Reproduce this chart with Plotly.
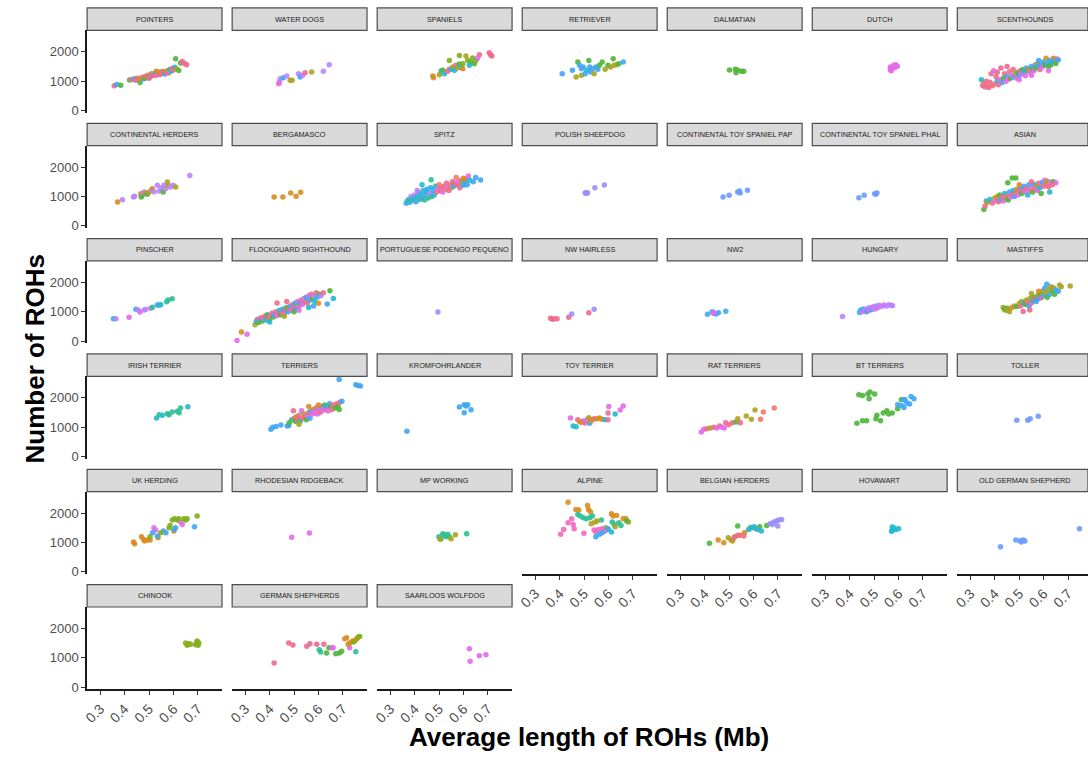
import plotly.graph_objects as go

# Point colours (one per breed group inside a clade)
COLORS = {
    "pk": "#EC6B8E", "rd": "#F07A6A", "mg": "#E26CEA", "hp": "#F266BF",
    "pu": "#B884FF", "pw": "#9A8EFF", "cb": "#6C9BFF", "bl": "#3FA6F5",
    "cy": "#22B9CF", "tl": "#2EBF95", "gr": "#4FB53A", "yg": "#82AE1C",
    "ol": "#ABA320", "or": "#D88C20",
}

X_TICKS = [0.3, 0.4, 0.5, 0.6, 0.7]
X_TICK_TEXT = ["0.3", "0.4", "0.5", "0.6", "0.7"]
Y_TICKS = [0, 1000, 2000]
Y_TICK_TEXT = ["0", "1000", "2000"]

# ---- per-clade data: average ROH length (Mb), number of ROHs, breed colour ----
pointers_x = [0.357,0.368,0.384,0.42,0.43,0.44,0.445,0.45,0.455,0.463,0.47,0.475,0.48,0.485,0.49,0.495,0.50,0.505,0.51,0.515,0.52,0.525,0.53,0.535,0.54,0.545,0.55,0.555,0.56,0.565,0.57,0.575,0.58,0.585,0.59,0.595,0.60,0.605,0.609,0.612,0.622,0.629,0.636,0.645,0.654,0.50,0.46,0.53]
pointers_y = [840,890,860,1040,1060,1080,1030,1100,1060,950,1120,1070,1150,1100,1180,1130,1210,1150,1250,1190,1230,1290,1200,1260,1300,1230,1320,1270,1330,1240,1300,1350,1280,1400,1340,1430,1380,1470,1760,1420,1360,1620,1670,1600,1560,1100,1090,1340]
pointers_c = "pk bl gr gr pk bl pk pk mg gr pk bl pk gr pk ol pk bl ol pk pk bl pk mg pk pk ol pk pk bl pk ol pk gr bl pk pk bl gr ol gr gr pk pk pk pk or or".split()

water_dogs_x = [0.437,0.44,0.443,0.456,0.47,0.484,0.492,0.518,0.525,0.535,0.545,0.572,0.62,0.644]
water_dogs_y = [915,972,1085,1118,1175,1028,1028,1254,1141,1198,1288,1310,1333,1559]
water_dogs_c = "mg mg pu bl pu ol ol pu bl pu pk ol pu pu".split()

spaniels_x = [0.474,0.477,0.501,0.508,0.515,0.522,0.535,0.542,0.549,0.556,0.563,0.569,0.576,0.583,0.59,0.597,0.542,0.583,0.61,0.617,0.63,0.637,0.644,0.651,0.665,0.658,0.705,0.716,0.711,0.624,0.597]
spaniels_y = [1175,1118,1220,1345,1367,1254,1333,1401,1401,1480,1367,1537,1446,1582,1480,1593,1706,1876,1853,1706,1650,1785,1593,1706,1898,1785,1966,1853,1900,1537,1424]
spaniels_c = "or or ol tl gr cy pk pk bl ol cy pk ol gr cy yg yg yg ol yg gr yg gr yg pk mg pk pk pk cy or".split()

retriever_x = [0.41,0.452,0.467,0.474,0.481,0.489,0.496,0.504,0.511,0.519,0.523,0.526,0.534,0.541,0.548,0.556,0.563,0.574,0.586,0.598,0.608,0.619,0.623,0.633,0.642,0.66,0.489]
retriever_y = [1254,1367,1141,1650,1537,1198,1480,1254,1367,1706,1480,1311,1424,1254,1480,1401,1537,1650,1401,1537,1480,1763,1537,1559,1593,1650,1420]
retriever_c = "bl bl ol gr bl ol bl bl cy gr bl bl bl ol bl bl gr gr ol gr ol gr ol ol gr bl bl".split()

dalmatian_x = [0.501,0.525,0.528,0.55,0.56,0.534]
dalmatian_y = [1378,1401,1288,1333,1333,1378]
dalmatian_c = "gr gr gr gr gr gr".split()

dutch_x = [0.566,0.566,0.572,0.58,0.588,0.595,0.57,0.583,0.59]
dutch_y = [1480,1390,1430,1540,1560,1510,1350,1460,1500]
dutch_c = "mg mg mg mg mg mg mg mg mg".split()

scenthounds_x = [0.345,0.35,0.355,0.36,0.365,0.37,0.375,0.38,0.385,0.39,0.395,0.40,0.405,0.41,0.415,0.42,0.425,0.43,0.435,0.44,0.445,0.45,0.455,0.46,0.465,0.47,0.475,0.48,0.485,0.49,0.495,0.50,0.505,0.51,0.515,0.52,0.525,0.53,0.535,0.54,0.545,0.55,0.555,0.56,0.565,0.57,0.575,0.58,0.585,0.59,0.595,0.60,0.605,0.61,0.615,0.62,0.625,0.63,0.635,0.64,0.645,0.65,0.655,0.66,0.45,0.41,0.50,0.55,0.62,0.58]
scenthounds_y = [1050,850,920,800,1000,880,780,960,1250,840,1350,900,1150,1000,880,1050,1450,950,1100,1250,1000,1150,1060,1320,1100,1200,1400,1150,1250,1100,1300,1200,1350,1250,1400,1300,1180,1450,1350,1400,1300,1500,1400,1350,1550,1450,1600,1500,1400,1550,1480,1650,1550,1780,1600,1500,1700,1550,1650,1780,1700,1600,1750,1720,1500,1300,1050,1200,1350,1700]
scenthounds_c = "cy pk rd pk pk rd pk pk pk pk mg rd pk cy pk mg pk bl gr pk mg bl mg pk gr mg pk bl ol mg gr bl pk mg gr bl mg bl gr or mg bl gr mg bl gr or bl pk bl mg bl gr or bl gr bl gr cy or bl gr pk bl pk pk mg mg mg bl".split()

cont_herders_x = [0.371,0.391,0.436,0.441,0.466,0.473,0.48,0.486,0.493,0.50,0.51,0.514,0.52,0.534,0.541,0.55,0.558,0.561,0.568,0.575,0.578,0.588,0.599,0.609,0.667,0.468]
cont_herders_y = [814,893,983,1006,1096,1040,1153,1119,1073,1141,1232,1266,1164,1379,1186,1288,1153,1379,1266,1492,1379,1322,1379,1322,1718,983]
cont_herders_c = "or pu pu pu or pu pu or gr ol pu or pu pu pu pu gr pu pu ol ol pu pu ol pu gr".split()

bergamasco_x = [0.418,0.454,0.486,0.508,0.527]
bergamasco_y = [983,983,1119,1006,1141]
bergamasco_c = "or or or or or".split()

spitz_x = [0.365,0.37,0.375,0.38,0.385,0.39,0.395,0.40,0.405,0.41,0.415,0.42,0.425,0.43,0.435,0.44,0.445,0.45,0.455,0.46,0.465,0.467,0.47,0.475,0.48,0.485,0.49,0.495,0.50,0.505,0.51,0.515,0.52,0.525,0.53,0.535,0.54,0.545,0.55,0.555,0.56,0.565,0.57,0.575,0.58,0.585,0.59,0.595,0.60,0.605,0.61,0.615,0.62,0.625,0.64,0.65,0.67,0.60,0.45,0.41,0.43]
spitz_y = [770,850,900,800,1000,880,950,1050,820,1000,1150,900,1080,960,1200,880,1050,1150,950,1100,1300,1570,1000,1200,1050,1350,1150,1250,1400,1200,1300,1150,1350,1250,1450,1300,1200,1400,1300,1500,1350,1450,1650,1400,1500,1300,1550,1450,1380,1500,1600,1400,1700,1550,1500,1650,1560,1620,1250,1200,1400]
spitz_c = "bl tl cy bl pu tl cy pu bl cy pu tl cy bl cy tl bl cy tl pu cy tl tl bl cy cy pk mg rd pk pk mg pk rd pk mg pk pk rd pk cy pk rd pk mg pk pk ol bl cy pk bl mg cy bl bl bl or bl pu cy".split()

polish_x = [0.504,0.508,0.51,0.514,0.544,0.583]
polish_y = [1119,1110,1125,1119,1299,1390]
polish_c = "pw pw pw pw pw pw".split()

cts_pap_x = [0.475,0.5,0.535,0.542,0.545,0.575]
cts_pap_y = [983,1040,1153,1186,1119,1209]
cts_pap_c = "cb cb cb cb cb cb".split()

cts_phal_x = [0.437,0.459,0.502,0.511,0.506]
cts_phal_y = [960,1040,1096,1119,1073]
cts_phal_c = "cb cb cb cb cb".split()

asian_x = [0.355,0.36,0.365,0.37,0.38,0.39,0.40,0.405,0.41,0.415,0.42,0.425,0.43,0.435,0.44,0.445,0.45,0.453,0.455,0.46,0.465,0.47,0.471,0.475,0.48,0.485,0.486,0.49,0.495,0.50,0.505,0.51,0.515,0.52,0.525,0.53,0.535,0.54,0.545,0.55,0.555,0.56,0.565,0.57,0.575,0.58,0.585,0.59,0.595,0.60,0.605,0.61,0.615,0.62,0.625,0.63,0.64,0.65,0.635,0.55,0.5]
asian_y = [560,680,850,800,900,780,950,860,1000,820,1050,900,980,850,1100,950,1020,1470,880,1150,980,1080,1630,1200,1000,1120,1630,1250,1050,1180,1300,1100,1220,1350,1150,1280,1050,1400,1200,1300,1150,1420,1250,1350,1200,1450,1300,1100,1480,1350,1550,1400,1520,1330,1150,1480,1500,1470,1400,1500,1400]
asian_c = "gr pk cy ol cy pk ol mg or pk gr bl pk mg cy ol pk gr gr bl mg pk gr cy bl pk gr or mg pk bl gr pk bl mg pk cy bl pk mg gr bl pk ol mg pk cy gr bl pk mg pk ol pk cy mg gr mg pk pk or".split()

pinscher_x = [0.354,0.364,0.418,0.446,0.455,0.463,0.48,0.487,0.507,0.514,0.534,0.541,0.548,0.572,0.578,0.595]
pinscher_y = [768,768,814,1085,1062,994,1062,1085,1119,1153,1232,1232,1243,1345,1401,1446]
pinscher_c = "cy pu mg bl pu mg pu pu mg tl bl bl cy tl tl tl".split()

flockguard_x = [0.266,0.284,0.307,0.34,0.345,0.35,0.355,0.36,0.365,0.37,0.375,0.38,0.385,0.39,0.395,0.40,0.405,0.41,0.415,0.42,0.425,0.43,0.435,0.44,0.445,0.45,0.455,0.46,0.465,0.47,0.475,0.48,0.485,0.49,0.495,0.50,0.505,0.51,0.515,0.52,0.525,0.53,0.535,0.54,0.545,0.55,0.555,0.56,0.565,0.57,0.575,0.58,0.585,0.59,0.595,0.60,0.605,0.61,0.62,0.636,0.647,0.661,0.43,0.47,0.50,0.56,0.58,0.52,0.46,0.40]
flockguard_y = [23,316,237,560,680,750,640,720,800,690,780,850,720,900,800,760,880,950,820,900,1000,870,950,1050,900,980,1100,950,1050,1150,1000,1100,1200,1050,1250,1150,1300,1100,1350,1200,1300,1400,1250,1450,1350,1500,1300,1550,1400,1600,1450,1550,1350,1650,1500,1290,1600,1550,1650,1270,1720,1450,1300,1350,1000,1150,1200,1050,850,650]
flockguard_c = "mg or mg ol cy pk gr bl pk gr mg pk cy gr pk ol mg pk gr bl pk mg pk cy gr pk bl mg pk gr cy pk bl mg pk pk cy bl mg pk bl pk mg pu pk bl pk mg bl pk gr pu cy pk bl or gr pu pk bl gr cy pk pk gr cy bl mg ol cy".split()

podengo_x = [0.495]
podengo_y = [994]
podengo_c = ["pw"]

nw_hairless_x = [0.362,0.37,0.377,0.389,0.437,0.449,0.519,0.541]
nw_hairless_y = [780,746,768,768,814,927,972,1085]
nw_hairless_c = "pk pk pk pk pk pw pk pw".split()

nw2_x = [0.411,0.43,0.435,0.446,0.456,0.486,0.438]
nw2_y = [915,1006,949,927,972,1017,972]
nw2_c = "bl bl mg bl bl bl mg".split()

hungary_x = [0.37,0.44,0.445,0.45,0.455,0.46,0.465,0.47,0.475,0.48,0.485,0.49,0.495,0.50,0.505,0.51,0.515,0.52,0.53,0.54,0.55,0.56,0.57,0.575]
hungary_y = [840,980,1060,1000,1100,1020,1080,1000,1120,1050,1150,1080,1130,1180,1100,1200,1150,1220,1180,1230,1200,1240,1220,1210]
hungary_c = "pu bl cy pu bl mg pu bl pu mg pu bl pu mg pu pu mg pu pu mg pu pu pu pu".split()

mastiffs_x = [0.434,0.44,0.445,0.45,0.455,0.46,0.47,0.48,0.49,0.50,0.505,0.51,0.516,0.52,0.525,0.53,0.535,0.54,0.543,0.545,0.55,0.555,0.56,0.565,0.57,0.575,0.58,0.585,0.59,0.595,0.60,0.605,0.61,0.613,0.615,0.62,0.625,0.63,0.635,0.64,0.645,0.65,0.665,0.672,0.709,0.66,0.58,0.55]
mastiffs_y = [1150,1080,1050,1120,1080,1000,1150,1200,1180,1280,1200,1350,1010,1300,1250,1400,1320,1200,1060,1450,1300,1380,1500,1420,1350,1550,1450,1600,1480,1700,1550,1800,1650,1940,1500,1750,1600,1850,1700,1820,1600,1750,1910,1850,1880,1700,1700,1620]
mastiffs_c = "ol gr ol gr ol ol or ol gr ol pk ol pk bl gr ol pk bl pk ol pk bl gr pk bl ol bl gr pk ol bl bl ol bl gr ol bl ol gr ol gr bl ol ol ol bl or ol".split()

irish_x = [0.531,0.541,0.554,0.575,0.582,0.595,0.616,0.623,0.629,0.659]
irish_y = [1311,1424,1401,1458,1424,1514,1537,1492,1650,1695]
irish_c = "cy tl cy tl tl tl tl tl tl cy".split()

terriers_x = [0.405,0.413,0.426,0.446,0.472,0.478,0.48,0.49,0.497,0.50,0.505,0.51,0.515,0.52,0.525,0.531,0.535,0.54,0.545,0.55,0.555,0.56,0.565,0.57,0.575,0.58,0.585,0.59,0.595,0.60,0.605,0.61,0.615,0.62,0.625,0.63,0.635,0.64,0.645,0.65,0.655,0.66,0.67,0.675,0.68,0.688,0.696,0.685,0.685,0.753,0.762,0.772,0.56,0.60,0.52]
terriers_y = [930,1000,1020,1070,1040,1060,1150,1250,1560,1300,1200,1350,1250,1400,1200,1560,1300,1450,1350,1250,1400,1500,1300,1550,1450,1600,1500,1650,1450,1600,1500,1700,1550,1650,1750,1600,1700,1550,1800,1700,1600,1750,1650,1800,1700,1850,1880,1600,2620,2440,2420,2400,1700,1750,1100]
terriers_c = "bl bl bl bl bl bl gr tl pk pk gr ol pk pk tl mg pk ol pk gr mg pk bl bl mg ol mg pk mg mg pk bl mg mg gr pk bl mg bl gr pk pk gr pk gr pk bl gr bl bl bl bl or or ol".split()

kromfohr_x = [0.368,0.583,0.603,0.61,0.617,0.603,0.631]
kromfohr_y = [859,1684,1763,1718,1763,1492,1593]
kromfohr_c = "bl bl bl bl bl bl bl".split()

toy_terrier_x = [0.444,0.455,0.467,0.474,0.489,0.496,0.504,0.511,0.519,0.523,0.534,0.541,0.553,0.563,0.574,0.586,0.598,0.601,0.627,0.648,0.66,0.598,0.482,0.527]
toy_terrier_y = [1311,1040,1017,1254,1164,1209,1141,1254,1322,1130,1254,1288,1288,1311,1266,1254,1480,1706,1446,1582,1718,1254,1180,1230]
toy_terrier_c = "mg cy cy pk or mg pk mg ol bl or pk or or or cy pk mg cy mg mg pk or or".split()

rat_terriers_x = [0.386,0.396,0.408,0.423,0.438,0.45,0.461,0.48,0.486,0.498,0.513,0.528,0.535,0.546,0.57,0.591,0.606,0.629,0.64,0.685,0.47]
rat_terriers_y = [836,927,949,972,994,972,1040,972,1153,1085,1153,1175,1288,1153,1379,1266,1582,1266,1514,1650,1000]
rat_terriers_c = "mg mg pk ol pk mg pk mg pk pk pk gr ol pk ol ol ol rd rd rd mg".split()

bt_terriers_x = [0.437,0.452,0.474,0.483,0.479,0.502,0.429,0.452,0.469,0.507,0.511,0.526,0.537,0.552,0.559,0.574,0.596,0.611,0.596,0.611,0.622,0.626,0.634,0.645,0.651,0.663,0.622]
bt_terriers_y = [2102,2079,2124,2192,1966,2124,1130,1220,1220,1288,1401,1220,1480,1559,1446,1480,1627,1932,1763,1740,1672,1932,1819,1785,2045,1966,1932]
bt_terriers_c = "gr gr gr gr gr gr gr gr gr gr gr gr gr gr gr gr gr gr bl bl bl bl bl bl bl bl bl".split()

toller_x = [0.49,0.535,0.545,0.578]
toller_y = [1232,1232,1288,1367]
toller_c = "cb cb cb cb".split()

uk_herding_x = [0.436,0.441,0.469,0.477,0.482,0.493,0.504,0.537,0.602,0.52,0.527,0.629,0.636,0.514,0.534,0.559,0.569,0.602,0.686,0.609,0.504,0.548,0.582,0.586,0.595,0.605,0.616,0.622,0.643,0.65,0.656,0.697]
uk_herding_y = [1017,960,1198,1107,1051,1085,1085,1164,1390,1503,1424,1695,1616,1333,1220,1390,1333,1446,1537,1503,1198,1333,1503,1582,1763,1808,1763,1808,1808,1763,1808,1898]
uk_herding_c = "or or or or or or or or or mg mg mg mg bl bl bl bl bl bl bl yg yg yg yg yg yg yg yg yg yg yg yg".split()

ridgeback_x = [0.49,0.563]
ridgeback_y = [1175,1322]
ridgeback_c = "mg mg".split()

mp_working_x = [0.499,0.508,0.515,0.522,0.529,0.535,0.542,0.504,0.549,0.567,0.613]
mp_working_y = [1198,1130,1299,1266,1198,1277,1198,1107,1130,1266,1299]
mp_working_c = "tl tl tl tl tl tl tl ol ol ol tl".split()

alpine_x = [0.434,0.466,0.478,0.514,0.518,0.526,0.612,0.618,0.633,0.66,0.671,
            0.474,0.484,0.496,0.508,0.523,0.534,0.571,0.615,0.623,0.642,0.651,
            0.529,0.544,0.553,0.589,0.627,0.682,0.675,
            0.404,0.416,0.434,0.449,0.455,0.459,0.499,0.541,0.559,0.574,0.548,0.586,
            0.548,0.563,0.574,0.6,0.612,0.597]
alpine_y = [2373,2124,2102,2260,2124,2034,1977,1898,1921,1808,1808,
            1955,1898,1842,1808,1842,1898,1763,1695,1616,1672,1582,
            1638,1695,1729,1503,1537,1695,1729,
            1277,1446,1672,1808,1616,1469,1311,1424,1446,1469,1356,1390,
            1198,1277,1333,1446,1356,1469]
alpine_c = ("or or or or or or or or or or or "
            "tl tl tl tl tl tl tl tl tl tl tl "
            "ol ol ol ol ol ol gr "
            "hp hp hp hp hp hp hp hp hp hp hp hp "
            "bl bl bl bl cy bl").split()

belgian_x = [0.419,0.535,0.654,0.587,0.625,
             0.455,0.478,0.508,0.544,0.563,
             0.496,0.514,0.523,
             0.52,0.535,0.56,0.61,
             0.58,0.595,0.617,0.632,0.602,
             0.669,0.684,0.694,0.699,0.703,0.715,0.677]
belgian_y = [972,1559,1582,1503,1537,
             1085,994,1085,1243,1333,
             1164,1051,1198,
             1164,1243,1220,1469,
             1446,1503,1446,1390,1537,
             1650,1695,1729,1559,1763,1785,1616]
belgian_c = ("gr gr gr gr gr or or or or or ol ol ol pk pk pk pk "
             "cy cy cy cy cy pw pw pw pw pw pw pw").split()

hovawart_x = [0.574,0.574,0.581,0.589,0.6,0.571]
hovawart_y = [1525,1412,1492,1446,1469,1379]
hovawart_c = "cy cy cy cy cy cy".split()

old_gs_x = [0.423,0.486,0.504,0.508,0.523,0.516,0.747]
old_gs_y = [859,1085,1062,1017,1051,1085,1469]
old_gs_c = "cb cb cb cb cb cb cb".split()

chinook_x = [0.65,0.656,0.663,0.67,0.695,0.697,0.704,0.701,0.691]
chinook_y = [1503,1424,1480,1458,1503,1571,1503,1424,1446]
chinook_c = "yg yg yg yg yg yg yg yg yg".split()

german_sh_x = [0.418,0.478,0.495,0.552,0.565,0.593,0.622,
               0.603,0.609,0.753,
               0.633,0.643,0.671,0.685,0.695,
               0.656,0.66,0.728,
               0.708,0.715,0.722,0.728,0.74,0.75,0.757,
               0.763,0.769,0.744]
german_sh_y = [825,1503,1435,1390,1480,1458,1458,
               1277,1198,1209,
               1164,1345,1141,1164,1220,
               1345,1345,1345,
               1650,1684,1458,1503,1571,1593,1650,
               1706,1729,1537]
german_sh_c = ("pk pk pk pk pk pk pk tl tl tl gr gr gr gr gr mg mg mg "
               "or or or or or or or yg yg yg").split()

saarloos_x = [0.624,0.627,0.665,0.692]
saarloos_y = [1311,881,1073,1107]
saarloos_c = "mg mg mg mg".split()

PANELS = [
    ("POINTERS", pointers_x, pointers_y, pointers_c),
    ("WATER DOGS", water_dogs_x, water_dogs_y, water_dogs_c),
    ("SPANIELS", spaniels_x, spaniels_y, spaniels_c),
    ("RETRIEVER", retriever_x, retriever_y, retriever_c),
    ("DALMATIAN", dalmatian_x, dalmatian_y, dalmatian_c),
    ("DUTCH", dutch_x, dutch_y, dutch_c),
    ("SCENTHOUNDS", scenthounds_x, scenthounds_y, scenthounds_c),
    ("CONTINENTAL HERDERS", cont_herders_x, cont_herders_y, cont_herders_c),
    ("BERGAMASCO", bergamasco_x, bergamasco_y, bergamasco_c),
    ("SPITZ", spitz_x, spitz_y, spitz_c),
    ("POLISH SHEEPDOG", polish_x, polish_y, polish_c),
    ("CONTINENTAL TOY SPANIEL PAP", cts_pap_x, cts_pap_y, cts_pap_c),
    ("CONTINENTAL TOY SPANIEL PHAL", cts_phal_x, cts_phal_y, cts_phal_c),
    ("ASIAN", asian_x, asian_y, asian_c),
    ("PINSCHER", pinscher_x, pinscher_y, pinscher_c),
    ("FLOCKGUARD SIGHTHOUND", flockguard_x, flockguard_y, flockguard_c),
    ("PORTUGUESE PODENGO PEQUENO", podengo_x, podengo_y, podengo_c),
    ("NW HAIRLESS", nw_hairless_x, nw_hairless_y, nw_hairless_c),
    ("NW2", nw2_x, nw2_y, nw2_c),
    ("HUNGARY", hungary_x, hungary_y, hungary_c),
    ("MASTIFFS", mastiffs_x, mastiffs_y, mastiffs_c),
    ("IRISH TERRIER", irish_x, irish_y, irish_c),
    ("TERRIERS", terriers_x, terriers_y, terriers_c),
    ("KROMFOHRLANDER", kromfohr_x, kromfohr_y, kromfohr_c),
    ("TOY TERRIER", toy_terrier_x, toy_terrier_y, toy_terrier_c),
    ("RAT TERRIERS", rat_terriers_x, rat_terriers_y, rat_terriers_c),
    ("BT TERRIERS", bt_terriers_x, bt_terriers_y, bt_terriers_c),
    ("TOLLER", toller_x, toller_y, toller_c),
    ("UK HERDING", uk_herding_x, uk_herding_y, uk_herding_c),
    ("RHODESIAN RIDGEBACK", ridgeback_x, ridgeback_y, ridgeback_c),
    ("MP WORKING", mp_working_x, mp_working_y, mp_working_c),
    ("ALPINE", alpine_x, alpine_y, alpine_c),
    ("BELGIAN HERDERS", belgian_x, belgian_y, belgian_c),
    ("HOVAWART", hovawart_x, hovawart_y, hovawart_c),
    ("OLD GERMAN SHEPHERD", old_gs_x, old_gs_y, old_gs_c),
    ("CHINOOK", chinook_x, chinook_y, chinook_c),
    ("GERMAN SHEPHERDS", german_sh_x, german_sh_y, german_sh_c),
    ("SAARLOOS WOLFDOG", saarloos_x, saarloos_y, saarloos_c),
]

# ---- facet grid geometry (pixels) ----
W, H = 1088, 759
NCOL = 7
COL0, COL_STEP, PANEL_W = 82.5, 145.7, 135.5
ROW0, ROW_STEP, STRIP_H, PLOT_H = 8.0, 116.1, 22.5, 83.0
X_LO, PX_PER_UNIT = 0.246, 245.0
Y_RANGE = [-75, 2730]
FONT = "Liberation Sans, Arial, Helvetica, sans-serif"
N = len(PANELS)

fig = go.Figure()
shapes, annotations, axes = [], [], {}

for i, (title, xs, ys, cs) in enumerate(PANELS):
    assert len(xs) == len(ys) == len(cs), title
    r, c = divmod(i, NCOL)
    left = COL0 + c * COL_STEP
    right = min(left + PANEL_W, W)
    strip_top = ROW0 + r * ROW_STEP
    plot_top = strip_top + STRIP_H
    plot_bot = plot_top + PLOT_H
    sfx = "" if i == 0 else str(i + 1)
    bottom = i + NCOL >= N
    first_col = c == 0

    xa = dict(domain=[left / W, right / W],
              range=[X_LO, X_LO + (right - left) / PX_PER_UNIT],
              anchor="y" + sfx, showgrid=False, zeroline=False, fixedrange=True)
    if bottom:
        xa.update(showline=True, linecolor="#1A1A1A", linewidth=1.8,
                  ticks="outside", ticklen=4, tickwidth=1.2, tickcolor="#333333",
                  tickvals=X_TICKS, ticktext=X_TICK_TEXT, tickangle=-45,
                  tickfont=dict(family=FONT, size=14, color="#4D4D4D"))
    else:
        xa.update(showline=False, showticklabels=False, ticks="")
    ya = dict(domain=[1 - plot_bot / H, 1 - plot_top / H], range=Y_RANGE,
              anchor="x" + sfx, showgrid=False, zeroline=False, fixedrange=True)
    if first_col:
        ya.update(showline=True, linecolor="#1A1A1A", linewidth=1.8,
                  ticks="outside", ticklen=4, tickwidth=1.2, tickcolor="#333333",
                  tickvals=Y_TICKS, ticktext=Y_TICK_TEXT,
                  tickfont=dict(family=FONT, size=13, color="#4D4D4D"))
    else:
        ya.update(showline=False, showticklabels=False, ticks="")
    axes["xaxis" + sfx] = xa
    axes["yaxis" + sfx] = ya

    fig.add_trace(go.Scatter(
        x=xs, y=ys, mode="markers", xaxis="x" + sfx, yaxis="y" + sfx,
        marker=dict(size=5.5, color=[COLORS[k] for k in cs], opacity=0.9,
                    line=dict(width=0)),
        hoverinfo="skip", showlegend=False))

    # facet strip
    shapes.append(dict(type="rect", xref="paper", yref="paper",
                       x0=left / W, x1=right / W,
                       y0=1 - (strip_top + STRIP_H) / H, y1=1 - strip_top / H,
                       fillcolor="#D9D9D9", line=dict(color="#4D4D4D", width=1.2),
                       layer="below"))
    annotations.append(dict(text=title, xref="paper", yref="paper",
                            x=(left + min(left + PANEL_W, W + 5)) / 2 / W,
                            y=1 - (strip_top + STRIP_H / 2) / H,
                            showarrow=False, xanchor="center", yanchor="middle",
                            font=dict(family=FONT, size=7.3, color="#1A1A1A")))

annotations.append(dict(text="<b>Average length of ROHs (Mb)</b>", xref="paper", yref="paper",
                        x=587 / W, y=1 - 742 / H, showarrow=False,
                        xanchor="center", yanchor="middle",
                        font=dict(family=FONT, size=26, color="black")))
annotations.append(dict(text="<b>Number of ROHs</b>", xref="paper", yref="paper",
                        x=30 / W, y=1 - 361 / H, showarrow=False, textangle=-90,
                        xanchor="center", yanchor="middle",
                        font=dict(family=FONT, size=26, color="black")))

fig.update_layout(width=W, height=H, margin=dict(l=0, r=0, t=0, b=0),
                  paper_bgcolor="white", plot_bgcolor="white",
                  showlegend=False, shapes=shapes, annotations=annotations, **axes)

fig.write_html("out.html", config={"displayModeBar": False})
